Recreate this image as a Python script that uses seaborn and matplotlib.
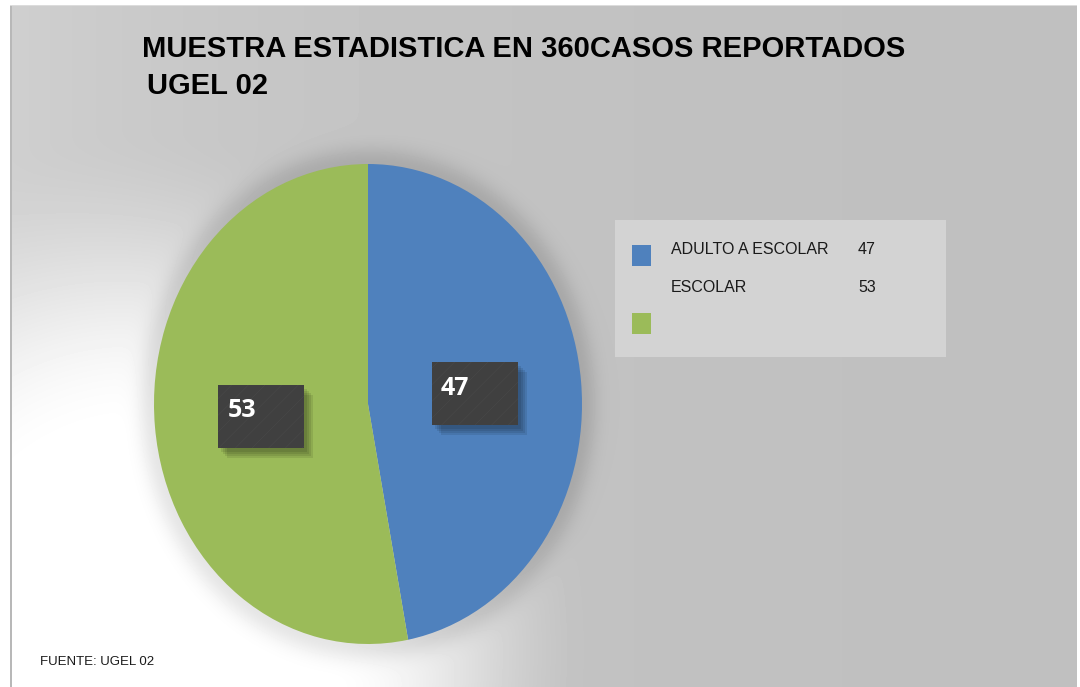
import numpy as np
import matplotlib
matplotlib.use('Agg')
import matplotlib.pyplot as plt
from matplotlib.patches import Rectangle
import seaborn as sns

# data
categories = ['ADULTO A ESCOLAR', 'ESCOLAR']
values = [47, 53]
colors = ['#4F81BD', '#9BBB59']
title_lines = ['MUESTRA ESTADISTICA EN 360CASOS REPORTADOS', 'UGEL 02']
source_note = 'FUENTE: UGEL 02'

W, H = 1080, 687
PIE = (154, 164, 428, 480)  # left, top, width, height in pixels

sns.set_theme(style='white')
palette = sns.color_palette(colors)

fig = plt.figure(figsize=(W / 100, H / 100), dpi=100)
fig.patch.set_facecolor('white')

# background with glow and pie shadow
bg = fig.add_axes([0, 0, 1, 1], zorder=0)
yy, xx = np.mgrid[0:H, 0:W] + 0.5
base = 0.75
gr = np.sqrt(((xx - 140) / 460) ** 2 + ((yy - 650) / 520) ** 2)
glow = np.clip(1.7 * (1 - gr), 0, 1)
glow = glow * glow * (3 - 2 * glow)
left = 0.25 * np.exp(-(xx - 10) / 300)
light = 1 - (1 - glow) * (1 - left)
img = base + (1 - base) * light

cx, cy = PIE[0] + PIE[2] / 2, PIE[1] + PIE[3] / 2
rx, ry = PIE[2] / 2, PIE[3] / 2
rp = np.sqrt(((xx - cx) / rx) ** 2 + ((yy - cy) / ry) ** 2)
d = np.clip((rp - 1) * rx, 0, None)
img = img - 0.1 * np.exp(-(d / 16) ** 2)

img[:, :10] = 1
img[:6, :] = 1
img[:, 1077:] = 1
img[6:, 10:12] = 0.72
img[5:6, 10:1077] = 0.86

bg.imshow(img, cmap='gray', vmin=0, vmax=1, extent=(0, W, H, 0),
          interpolation='none', aspect='auto')
bg.set_xlim(0, W)
bg.set_ylim(H, 0)
bg.axis('off')

# pie
pax = fig.add_axes([PIE[0] / W, 1 - (PIE[1] + PIE[3]) / H, PIE[2] / W, PIE[3] / H], zorder=1)
wedges, texts, autotexts = pax.pie(values, colors=palette, startangle=90, counterclock=False,
                                   autopct=lambda p: '', pctdistance=0.5,
                                   wedgeprops=dict(linewidth=0))
pax.set_aspect('auto')
pax.set_xlim(-1, 1)
pax.set_ylim(-1, 1)
pax.axis('off')

# foreground in pixel coords
fg = fig.add_axes([0, 0, 1, 1], zorder=2)
fg.set_xlim(0, W)
fg.set_ylim(H, 0)
fg.patch.set_alpha(0)
fg.axis('off')

plt.rcParams['hatch.linewidth'] = 0.5
bw, bh = 86, 63
for v, at in zip(values, autotexts):
    disp = pax.transData.transform(at.get_position())
    px, py = fg.transData.inverted().transform(disp)
    bx, by = px - bw / 2, py - bh / 2 + 1
    # soft shadow
    for k in range(4):
        fg.add_patch(Rectangle((bx + 3 + k * 2, by + 4 + k * 2), bw, bh,
                               facecolor='black', alpha=0.09, lw=0))
    fg.add_patch(Rectangle((bx, by), bw, bh, facecolor='#404040',
                           edgecolor='#474747', hatch='//', lw=0))
    fg.text(bx + 9, by + 26, str(v), color='white', fontsize=18, fontweight='bold',
            family=['Open Sans', 'DejaVu Sans'], ha='left', va='center')

# legend (as in the original, markers misaligned)
fg.add_patch(Rectangle((615, 220), 331, 137, facecolor='#D3D3D3', lw=0))
for i, (cat, v, c) in enumerate(zip(categories, values, palette)):
    fg.add_patch(Rectangle((632, 245 + i * 68), 19, 21, facecolor=c, lw=0))
    ty = 250 + i * 38
    fg.text(671, ty, cat, fontsize=11.5, family='Liberation Sans', color='#1a1a1a', va='center')
    fg.text(858, ty, str(v), fontsize=11.5, family='Liberation Sans', color='#1a1a1a', va='center')

# titles
fg.text(142, 49, title_lines[0], fontsize=21, fontweight='bold',
        family='Liberation Sans', va='center', color='black')
fg.text(147, 86, title_lines[1], fontsize=21, fontweight='bold',
        family='Liberation Sans', va='center', color='black')

fg.text(40, 662, source_note, fontsize=9.5, family='Liberation Sans', va='center', color='#1a1a1a')

fig.savefig('out.png', dpi=100)
